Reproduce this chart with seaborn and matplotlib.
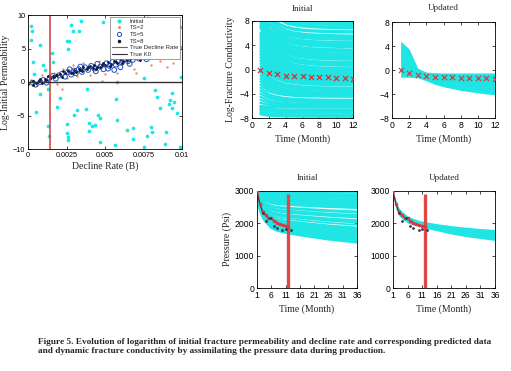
import numpy as np
import pandas as pd
import matplotlib
matplotlib.use('Agg')
import matplotlib.pyplot as plt
import seaborn as sns
from matplotlib.lines import Line2D

# ---------------- data ----------------
# scatter: initial ensemble (decline rate, log initial permeability)
init_pts = [(0.00022, 8.36), (0.00028, 7.61), (0.00017, 6.27), (0.0008, 5.47), (0.00033, 2.99),
            (0.00098, 2.49), (0.00163, 3.03), (0.00157, 4.38), (0.00276, 8.56), (0.00341, 9.05),
            (0.00289, 7.66), (0.0025, 6.17), (0.00263, 6.17), (0.00259, 4.88), (0.00489, 8.96),
            (0.00333, 7.61), (0.0055, 7.51), (0.00778, 9.55), (0.00787, 5.67), (0.00989, 8.26),
            (0.00989, 5.27), (0.00207, -2.44), (0.00189, -3.68), (0.0013, -1.09), (0.00076, -1.84),
            (0.0005, -4.43), (0.0013, -6.57), (0.00137, -8.06), (0.00298, -4.93), (0.0025, -6.27),
            (0.0025, -7.66), (0.00261, -8.16), (0.00261, -8.66), (0.00315, -4.18), (0.00378, -4.08),
            (0.00385, -1.09), (0.00393, -6.17), (0.00398, -7.36), (0.00413, -6.52), (0.00435, -6.42),
            (0.00457, -4.93), (0.00467, -5.42), (0.00467, -8.91), (0.00565, -9.45), (0.0057, -2.49),
            (0.0058, -5.67), (0.00646, -7.11), (0.00685, -6.92), (0.00685, -8.56), (0.0075, -9.65),
            (0.00798, -6.67), (0.00804, -7.41), (0.00772, -8.06), (0.00822, -1.19), (0.00837, -2.19),
            (0.00854, -3.93), (0.00917, -3.33), (0.00924, -2.69), (0.00933, -3.83), (0.00946, -2.94),
            (0.00967, -4.58), (0.00898, -7.41), (0.00887, -9.25), (0.00989, -9.65), (0.00996, 0.7),
            (0.00935, -1.59), (0.0075, 0.55), (0.00576, 0.05), (0.0011, 1.8), (0.0004, 1.2)]
ts2_pts = [(0.0002, 0.3), (0.0006, -0.5), (0.0009, 1.0), (0.0013, 0.2), (0.0017, 1.4), (0.0019, -0.3),
           (0.0023, 2.0), (0.0025, 0.6), (0.0029, 2.5), (0.0032, 0.9), (0.0036, 2.8), (0.0040, 1.1),
           (0.0046, 3.2), (0.0050, 1.2), (0.0054, 3.6), (0.0058, 1.4), (0.0064, 3.8), (0.0069, 2.0),
           (0.0074, 4.0), (0.0080, 2.6), (0.0086, 3.1), (0.0090, 2.2), (0.0094, 2.8), (0.0070, 1.3),
           (0.0048, 0.2), (0.0022, -1.0)]
ts5_pts = [(0.0003, -0.1), (0.0005, -0.4), (0.0008, 0.0), (0.0010, 0.3), (0.0012, -0.1), (0.0014, 0.6),
           (0.0016, 0.9), (0.0018, 0.5), (0.0020, 1.0), (0.0022, 1.2), (0.0024, 0.8), (0.0026, 1.5),
           (0.0028, 1.1), (0.0030, 1.7), (0.0031, 1.3), (0.0033, 1.9), (0.0035, 1.5), (0.0037, 2.2),
           (0.0039, 1.8), (0.0041, 2.4), (0.0043, 2.0), (0.0045, 2.7), (0.0047, 2.3), (0.0049, 1.9),
           (0.0051, 2.8), (0.0053, 2.4), (0.0055, 3.0), (0.0057, 2.6), (0.0059, 3.2), (0.0061, 2.9),
           (0.0063, 3.4), (0.0065, 3.1), (0.0068, 3.3), (0.0072, 3.5), (0.0077, 3.4), (0.0052, 2.0),
           (0.0044, 1.6), (0.0034, 2.3), (0.0027, 1.9), (0.0056, 1.8), (0.0060, 2.2), (0.0066, 2.7)]
ts8_pts = [(0.0000, -0.3), (0.0003, -0.5), (0.0005, -0.1), (0.0007, 0.2), (0.0009, -0.2), (0.0011, 0.5),
           (0.0012, 0.3), (0.0014, 0.6), (0.0016, 0.9), (0.0017, 0.7), (0.0019, 1.0), (0.0021, 1.2),
           (0.0022, 0.8), (0.0024, 1.4), (0.0026, 1.6), (0.0028, 1.3), (0.0030, 1.8), (0.0031, 1.5),
           (0.0033, 2.0), (0.0035, 1.7), (0.0036, 2.2), (0.0038, 1.9), (0.0040, 2.4), (0.0042, 2.1),
           (0.0043, 2.6), (0.0045, 2.3), (0.0047, 2.2), (0.0049, 2.8), (0.0050, 2.5), (0.0052, 3.0),
           (0.0054, 2.7), (0.0056, 3.2), (0.0058, 2.9), (0.0060, 3.4), (0.0062, 3.1), (0.0064, 3.3),
           (0.0066, 3.5), (0.0070, 3.6), (0.0073, 3.3), (0.0003, 0.1), (0.0008, 0.4), (0.0013, 0.9),
           (0.0018, 1.1), (0.0023, 1.6), (0.0029, 1.4), (0.0034, 1.8), (0.0039, 2.3), (0.0044, 2.0),
           (0.0048, 2.6), (0.0053, 2.4), (0.0057, 3.0), (0.0061, 2.8)]
true_B = 0.0014
true_K0 = 0.0
B_ticks = [0, 0.0025, 0.005, 0.0075, 0.01]
B_ticklabels = ['0', '0.0025', '0.005', '0.0075', '0.01']

# conductivity
months = list(range(1, 13))
decay_profile = [1.0, 0.45, 0.25, 0.14, 0.08, 0.05, 0.03, 0.02, 0.012, 0.006, 0.003, 0.0]
cond_curves = [(14, 7.8), (14, 7.5), (13, 7.3), (13, 7.0), (13, 6.8), (12, 6.3), (12, 6.1), (12, 5.6),
               (12, 5.4), (11, 5.2), (11, 4.9), (11, 4.5), (11, 4.3), (10, 4.1), (10, 3.9), (10, 3.7),
               (10, 3.3), (10, 3.1), (10, 2.9), (9.5, 2.6), (9.5, 2.4), (9.5, 2.2), (9.5, 2.0), (9, 1.8),
               (9, 1.6), (9, 1.2), (9, 1.0), (9, 0.8), (8.5, 0.6), (8.5, 0.2), (8.5, 0.0), (8, -0.2),
               (7.5, -0.4), (7, -0.6), (6, -0.8), (5.5, -1.0), (5, -1.2), (4.5, -1.4), (4, -1.6),
               (3.5, -1.8), (3, -2.0), (2.5, -2.2), (2, -2.4), (1.5, -2.6), (1, -3.0), (0.5, -3.2),
               (0, -3.4), (-0.5, -3.7), (-1, -3.9), (-1.5, -4.1), (-2, -4.3), (-2.5, -4.5), (-3, -5.0),
               (-3.5, -5.2), (-4, -5.4), (-4.5, -5.7), (-5, -5.9), (-5.5, -6.1), (-6, -6.3), (-6.2, -6.7),
               (-6.5, -6.9), (-6.7, -7.1), (-7.0, -7.4), (-7.2, -7.6), (-7.4, -7.8)]
true_cond = [0.0, -0.5, -0.8, -1.0, -1.1, -1.15, -1.2, -1.25, -1.3, -1.35, -1.4, -1.5]
upd_cond_upper = [4.8, 3.5, 0.3, -0.35, -0.45, -0.5, -0.5, -0.5, -0.5, -0.5, -0.5, -0.5]
upd_cond_lower = [-1.2, -1.2, -1.3, -1.8, -2.4, -2.8, -3.1, -3.4, -3.6, -3.8, -4.0, -4.1]

# pressure
p_months = [1, 2, 3, 4, 6, 8, 10, 12, 16, 21, 26, 31, 36]
p_shape = [0.0, 0.38, 0.52, 0.6, 0.72, 0.77, 0.8, 0.82, 0.86, 0.9, 0.94, 0.97, 1.0]
p_init = 3000
p_end_initial = [2950, 2900, 2860, 2820, 2780, 2740, 2700, 2660, 2620, 2580, 2540, 2500, 2470,
                 2370, 2330, 2260, 2220, 2180, 2100, 2060, 2020, 1950, 1870, 1830, 1790, 1750,
                 1710, 1670, 1630, 1590, 1550, 1510, 1470, 1430, 1400]
upd_p_upper = [3000, 2700, 2480, 2380, 2230, 2150, 2090, 2050, 1990, 1930, 1880, 1840, 1810]
upd_p_lower = [2880, 2450, 2250, 2150, 2010, 1950, 1900, 1850, 1770, 1670, 1590, 1530, 1470]
obs_line_t = list(range(1, 13))
obs_line_p = [3000, 2600, 2350, 2250, 2180, 2150, 2080, 2020, 1970, 1940, 1920, 1900]
obs_dot_t = [3.1, 4.0, 5.5, 6.9, 8.0, 9.9, 11.1, 12.8]
obs_dot_p = [2335, 2080, 2180, 1925, 1860, 1790, 1840, 1790]
hist_month = 12
hist_line_top = 2900
p_ticks = [1, 6, 11, 16, 21, 26, 31, 36]

# ---------------- style ----------------
sns.set_theme(style='white')
plt.rcParams['font.family'] = ['Liberation Sans', 'DejaVu Sans']
SERIF = ['Liberation Serif', 'DejaVu Serif']
CYAN = '#1fe5e5'

W, H = 511, 371
fig = plt.figure(figsize=(W / 100, H / 100), dpi=100)


def box(l, t, r, b):
    return fig.add_axes([l / W, 1 - b / H, (r - l) / W, (b - t) / H])


def style(ax, fs=6.2):
    for sp in ax.spines.values():
        sp.set_color('black')
        sp.set_linewidth(0.6)
    ax.tick_params(direction='in', length=2, width=0.5, labelsize=fs, pad=2,
                   top=True, right=True, bottom=True, left=True, colors='black')
    ax.grid(False)


# ---- scatter ----
ax0 = box(28, 15, 182, 149)
dfi = pd.DataFrame(init_pts, columns=['B', 'K'])
df2 = pd.DataFrame(ts2_pts, columns=['B', 'K'])
df5 = pd.DataFrame(ts5_pts, columns=['B', 'K'])
df8 = pd.DataFrame(ts8_pts, columns=['B', 'K'])
sns.scatterplot(data=dfi, x='B', y='K', ax=ax0, color=CYAN, s=7, marker='o', linewidth=0, legend=False)
sns.scatterplot(data=df2, x='B', y='K', ax=ax0, color='#e8906a', s=3, marker='o', linewidth=0, legend=False)
sns.scatterplot(data=df5, x='B', y='K', ax=ax0, facecolor='none', edgecolor='#2050c0', s=12, marker='o',
                linewidth=0.7, legend=False)
sns.scatterplot(data=df8, x='B', y='K', ax=ax0, color='#101535', s=4, marker='o', linewidth=0, legend=False)
ax0.axvline(true_B, color='#d03a3a', lw=1.1)
ax0.axhline(true_K0, color='#333333', lw=1.0)
ax0.set_xlim(0, 0.01)
ax0.set_ylim(-10, 10)
ax0.set_xticks(B_ticks)
ax0.set_xticklabels(B_ticklabels)
ax0.set_yticks([-10, -5, 0, 5, 10])
style(ax0, 5.2)
ax0.set_xlabel('Decline Rate (B)', family=SERIF, fontsize=7, labelpad=2)
ax0.set_ylabel('Log-Initial Permeability', family=SERIF, fontsize=7, labelpad=2)
handles = [Line2D([], [], ls='none', marker='o', ms=2, color=CYAN),
           Line2D([], [], ls='none', marker='o', ms=1.2, color='#e8906a'),
           Line2D([], [], ls='none', marker='o', ms=3, mfc='none', mec='#2050c0', mew=0.7),
           Line2D([], [], ls='none', marker='o', ms=1.5, color='#101535'),
           Line2D([], [], color='#d03a3a', lw=0.8),
           Line2D([], [], color='#333333', lw=0.8)]
labels = ['Initial', 'TS=2', 'TS=5', 'TS=8', 'True Decline Rate', 'True K0']
leg = ax0.legend(handles, labels, loc='upper right', fontsize=4.3, frameon=True, fancybox=False,
                 edgecolor='#555555', framealpha=1, borderpad=0.3, labelspacing=0.25,
                 handlelength=2.5, handletextpad=0.5, borderaxespad=0.3)
leg.get_frame().set_linewidth(0.4)

# ---- conductivity initial ----
ax1 = box(252, 21, 353, 118)
rows = []
for i, (s, e) in enumerate(cond_curves):
    for t, d in zip(months, decay_profile):
        rows.append((i, t, e + (s - e) * d))
dfc = pd.DataFrame(rows, columns=['curve', 't', 'val'])
sns.lineplot(data=dfc, x='t', y='val', units='curve', estimator=None, color=CYAN, lw=1.6,
             ax=ax1, legend=False)
sns.scatterplot(x=months, y=true_cond, ax=ax1, marker='x', color='#c83a3a', s=14, linewidth=0.9, zorder=5)
ax1.set_xlim(0, 12)
ax1.set_ylim(-8, 8)
ax1.set_xticks(range(0, 13, 2))
ax1.set_yticks([-8, -4, 0, 4, 8])
style(ax1)
ax1.set_xlabel('Time (Month)', family=SERIF, fontsize=7, labelpad=3)
ax1.set_ylabel('Log-Fracture Conductivity', family=SERIF, fontsize=7, labelpad=3)
ax1.set_title('Initial', family=SERIF, fontsize=6.5, pad=7)

# ---- conductivity updated ----
ax2 = box(392, 22, 495, 118)
ax2.fill_between(months, upd_cond_lower, upd_cond_upper, color=CYAN, lw=0)
sns.scatterplot(x=months, y=true_cond, ax=ax2, marker='x', color='#c04848', s=14, linewidth=0.9, zorder=5)
ax2.set_xlim(0, 12)
ax2.set_ylim(-8, 8)
ax2.set_xticks(range(0, 13, 2))
ax2.set_yticks([-8, -4, 0, 4, 8])
style(ax2)
ax2.set_xlabel('Time (Month)', family=SERIF, fontsize=7, labelpad=3)
ax2.set_ylabel('')
ax2.set_title('Updated', family=SERIF, fontsize=6.5, pad=9)

# ---- pressure initial ----
ax3 = box(257, 191, 357, 288)
rows = []
for i, pe in enumerate(p_end_initial):
    for t, g in zip(p_months, p_shape):
        rows.append((i, t, p_init - (p_init - pe) * g))
dfp = pd.DataFrame(rows, columns=['curve', 't', 'p'])
sns.lineplot(data=dfp, x='t', y='p', units='curve', estimator=None, color=CYAN, lw=1.3,
             ax=ax3, legend=False)


def obs(ax):
    ax.vlines(hist_month, 0, hist_line_top, color='#e04848', lw=2.4, zorder=6)
    sns.lineplot(x=obs_line_t, y=obs_line_p, ax=ax, color='#7a2038', lw=1.0, marker='o', ms=1.8,
                 mfc='#e03838', mec='#e03838', zorder=7)
    sns.scatterplot(x=obs_dot_t, y=obs_dot_p, ax=ax, color='#303a50', s=4, linewidth=0, zorder=8)


obs(ax3)
ax3.set_xlim(1, 36)
ax3.set_ylim(0, 3000)
ax3.set_xticks(p_ticks)
ax3.set_yticks([0, 1000, 2000, 3000])
style(ax3)
ax3.set_xlabel('Time (Month)', family=SERIF, fontsize=7, labelpad=3)
ax3.set_ylabel('Pressure (Psi)', family=SERIF, fontsize=7, labelpad=2)
ax3.set_title('Initial', family=SERIF, fontsize=6.5, pad=8)

# ---- pressure updated ----
ax4 = box(393, 191, 495, 288)
ax4.fill_between(p_months, upd_p_lower, upd_p_upper, color=CYAN, lw=0)
obs(ax4)
ax4.set_xlim(1, 36)
ax4.set_ylim(0, 3000)
ax4.set_xticks(p_ticks)
ax4.set_yticks([0, 1000, 2000, 3000])
style(ax4)
ax4.set_xlabel('Time (Month)', family=SERIF, fontsize=7, labelpad=3)
ax4.set_ylabel('')
ax4.set_title('Updated', family=SERIF, fontsize=6.5, pad=8)

# ---- caption ----
caption = ('Figure 5. Evolution of logarithm of initial fracture permeability and decline rate and corresponding predicted data\n'
           'and dynamic fracture conductivity by assimilating the pressure data during production.')
fig.text(38 / W, 1 - 338 / H, caption, family=SERIF, fontsize=6.7, fontweight='bold', va='top',
         ha='left', linespacing=1.15)

fig.savefig('out.png', dpi=100)
